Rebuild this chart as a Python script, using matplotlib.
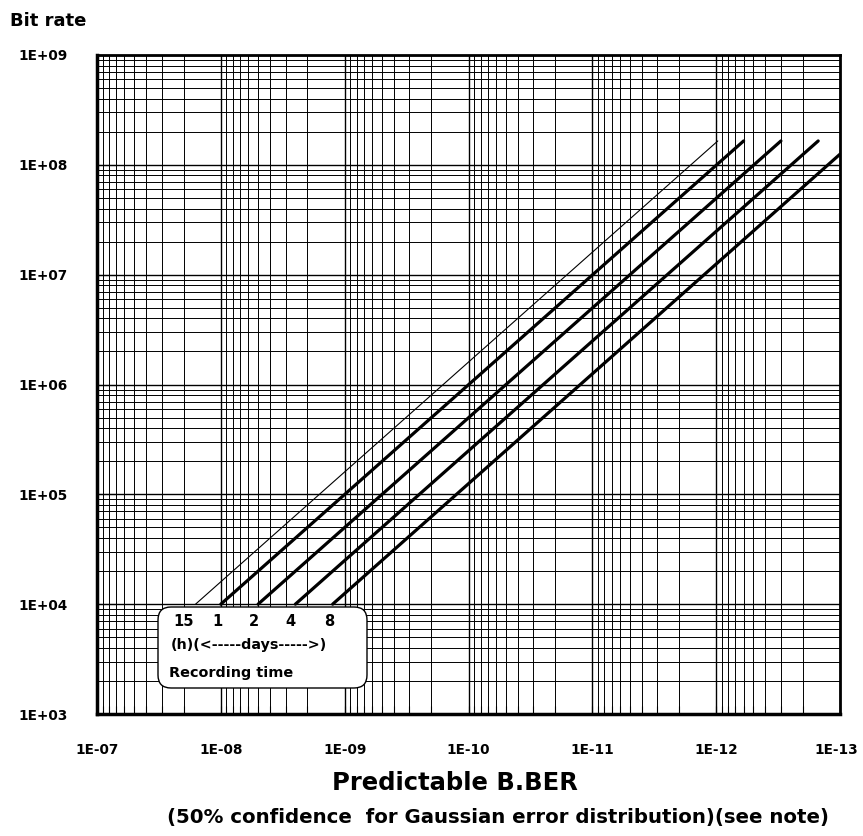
import matplotlib
matplotlib.use('Agg')
import matplotlib.pyplot as plt
import matplotlib.transforms as mtransforms
from matplotlib.patches import FancyBboxPatch
from matplotlib.ticker import LogLocator, FuncFormatter, NullFormatter

plt.rcParams['font.family'] = ['DejaVu Sans']
plt.rcParams['font.weight'] = 'bold'

# recording time curves: start/end points
time_labels = ['15', '1', '2', '4', '8']
ber_start = [1.6e-8, 1.0e-8, 5.0e-9, 2.5e-9, 1.25e-9]
ber_end = [9.7e-13, 6.0e-13, 3.0e-13, 1.5e-13, 1.0e-13]
rate_start = [1e4, 1e4, 1e4, 1e4, 1e4]
rate_end = [1.65e8, 1.65e8, 1.65e8, 1.65e8, 1.25e8]
x_ticks = [1e-7, 1e-8, 1e-9, 1e-10, 1e-11, 1e-12, 1e-13]
y_ticks = [1e3, 1e4, 1e5, 1e6, 1e7, 1e8, 1e9]

fig = plt.figure(figsize=(8.63, 8.36), dpi=100)
ax = fig.add_axes([97 / 863, 122 / 836, 743 / 863, 659 / 836])

for i in range(len(time_labels)):
    lw = 0.8 if i == 0 else 2.3
    ax.plot([ber_start[i], ber_end[i]], [rate_start[i], rate_end[i]],
            color='black', linewidth=lw, solid_capstyle='round', zorder=3)

ax.set_xscale('log')
ax.set_yscale('log')
ax.set_xlim(1e-7, 1e-13)
ax.set_ylim(1e3, 1e9)

ax.set_xticks(x_ticks)
ax.set_yticks(y_ticks)
ax.xaxis.set_minor_locator(LogLocator(base=10, subs=range(2, 10), numticks=100))
ax.yaxis.set_minor_locator(LogLocator(base=10, subs=range(2, 10), numticks=100))
fmt = FuncFormatter(lambda v, p: f'{v:.0E}')
ax.xaxis.set_major_formatter(fmt)
ax.yaxis.set_major_formatter(fmt)
ax.xaxis.set_minor_formatter(NullFormatter())
ax.yaxis.set_minor_formatter(NullFormatter())

ax.grid(True, which='major', color='black', linewidth=1.0)
ax.grid(True, which='minor', color='black', linewidth=0.7)
ax.set_axisbelow(True)

ax.tick_params(axis='both', which='both', direction='in', labelsize=9.8, width=0.8)
ax.tick_params(axis='x', which='major', length=6, pad=21)
ax.tick_params(axis='x', which='minor', length=6)
ax.tick_params(axis='y', which='major', length=14, pad=21)
ax.tick_params(axis='y', which='minor', length=0)
for lab in ax.get_xticklabels() + ax.get_yticklabels():
    lab.set_fontweight('bold')

# nudge the last x label so it stays inside the canvas
shift = mtransforms.ScaledTranslation(-4 / 100, 0, fig.dpi_scale_trans)
last = ax.xaxis.get_major_ticks()[-1].label1
last.set_transform(last.get_transform() + shift)

for side in ['left', 'bottom']:
    ax.spines[side].set_linewidth(2.5)
for side in ['right', 'top']:
    ax.spines[side].set_linewidth(2.0)

# annotation box (figure inches)
tr = fig.dpi_scale_trans
box = FancyBboxPatch((1.58, 1.48), 2.09, 0.81,
                     boxstyle='round,pad=0,rounding_size=0.13',
                     transform=tr, facecolor='white', edgecolor='black',
                     linewidth=1.0, zorder=6, clip_on=False)
ax.add_artist(box)
label_x = [1.84, 2.17, 2.54, 2.90, 3.29]
for lx, t in zip(label_x, time_labels):
    ax.text(lx, 8.36 - 6.21, t, transform=tr, ha='center', va='center',
            fontsize=10.5, fontweight='bold', zorder=7)
ax.text(1.71, 8.36 - 6.45, '(h)(<-----days----->)', transform=tr, ha='left',
        va='center', fontsize=10.3, fontweight='bold', zorder=7)
ax.text(1.69, 8.36 - 6.73, 'Recording time', transform=tr, ha='left',
        va='center', fontsize=10.4, fontweight='bold', zorder=7)

fig.text(10 / 863, 1 - 21 / 836, 'Bit rate', ha='left', va='center',
         fontsize=13, fontweight='bold')
fig.text(455 / 863, 1 - 783 / 836, 'Predictable B.BER', ha='center', va='center',
         fontsize=17.5, fontweight='bold')
fig.text(498 / 863, 1 - 817 / 836,
         '(50% confidence  for Gaussian error distribution)(see note)',
         ha='center', va='center', fontsize=14.2, fontweight='bold')

fig.savefig('out.png', dpi=100, facecolor='white')
